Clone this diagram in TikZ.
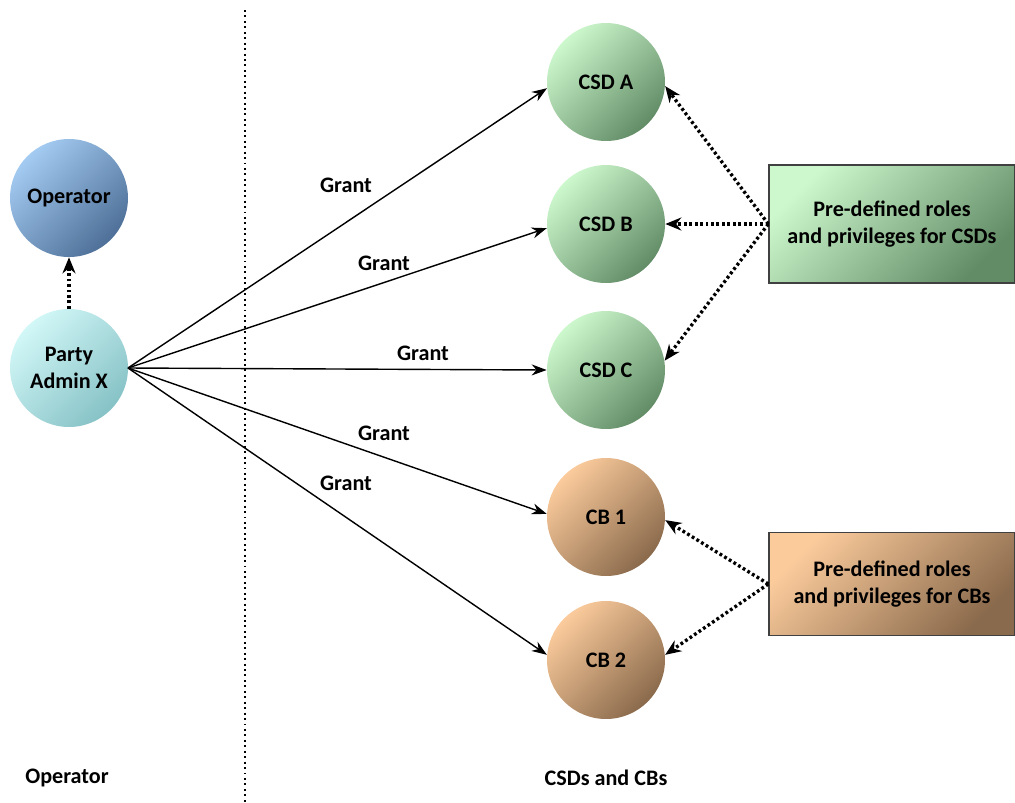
\documentclass[tikz,border=0pt]{standalone}
\usepackage{fontspec}
\setmainfont{Carlito}
\usetikzlibrary{arrows.meta}
\definecolor{opL}{HTML}{A4CBF2}\definecolor{opD}{HTML}{4E7098}
\definecolor{paL}{HTML}{D2F7F7}\definecolor{paD}{HTML}{86C2C6}
\definecolor{grL}{HTML}{CDF8CD}\definecolor{grD}{HTML}{628C66}
\definecolor{orL}{HTML}{FBCB9C}\definecolor{orD}{HTML}{8A6A4C}
\tikzset{
  txt/.style={font=\fontsize{12.6}{15}\selectfont\bfseries, align=center},
  circ/.style={circle, minimum size=2.36cm, inner sep=0pt, txt, shading angle=45},
  opc/.style={circ, top color=opL, bottom color=opD, shading angle=45},
  pac/.style={circ, top color=paL, bottom color=paD, shading angle=45},
  grc/.style={circ, top color=grL, bottom color=grD, shading angle=45},
  orc/.style={circ, top color=orL, bottom color=orD, shading angle=45},
  boxn/.style={rectangle, draw=black!75, line width=0.8pt, minimum width=4.92cm, txt},
  grant/.style={-{Stealth[length=3mm,width=2.2mm]}, line width=0.8pt},
  dotarr/.style={-{Stealth[length=3.2mm,width=2.6mm]}, dash pattern=on 1.6pt off 1.5pt, line width=1.9pt},
}
\begin{document}
\begin{tikzpicture}[x=0.02cm,y=-0.02cm]
\useasboundingbox (0,0) rectangle (1015,802);
\draw[dash pattern=on 1.1pt off 2pt, line width=1.2pt] (245,10) -- (245,802);
\node[opc] (op) at (69,198) {Operator};
\node[pac] (pa) at (69,368) {Party\\Admin X};
\node[grc] (a) at (606,82) {CSD A};
\node[grc] (b) at (606,224) {CSD B};
\node[grc] (c) at (606,370) {CSD C};
\node[orc] (c1) at (606,517) {CB 1};
\node[orc] (c2) at (606,660) {CB 2};
\node[boxn, minimum height=2.36cm, top color=grL, bottom color=grD, shading angle=45] (bx1) at (892,224) {Pre-defined roles\\and privileges for CSDs};
\node[boxn, minimum height=2.06cm, top color=orL, bottom color=orD, shading angle=45] (bx2) at (892,584) {Pre-defined roles\\and privileges for CBs};
\node[txt] (l1) at (67,778) {Operator};
\node[txt] (l2) at (606,778) {CSDs and CBs};
\draw[dotarr] (pa.north) -- (op.south);
\coordinate (pe) at (128,368);
\draw[grant] (pe) -- (a.186);
\draw[grant] (pe) -- (b.184);
\draw[grant] (pe) -- (c.180);
\draw[grant] (pe) -- (c1.177);
\draw[grant] (pe) -- (c2.175);
\node[txt] (g1) at (346,185) {Grant};
\node[txt] (g2) at (384,263) {Grant};
\node[txt] (g3) at (423,353) {Grant};
\node[txt] (g4) at (384,433) {Grant};
\node[txt] (g5) at (346,483) {Grant};
\draw[dotarr] (bx1.west) -- (a.-4);
\draw[dotarr] (bx1.west) -- (b.east);
\draw[dotarr] (bx1.west) -- (c.9);
\draw[dotarr] (bx2.west) -- (c1.-3);
\draw[dotarr] (bx2.west) -- (c2.5);
\end{tikzpicture}
\end{document}
